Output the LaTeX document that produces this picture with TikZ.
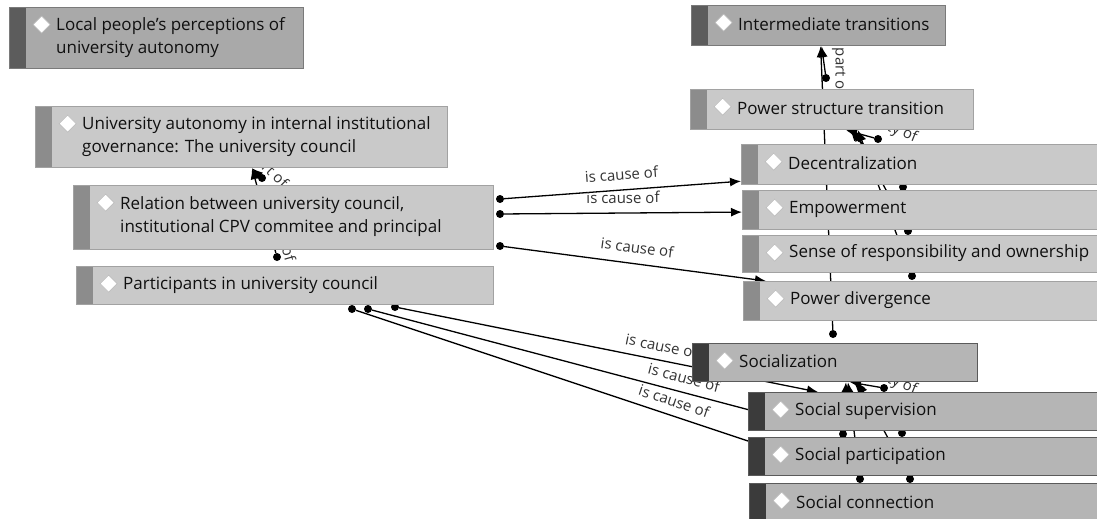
\documentclass[tikz,border=0pt]{standalone}
\usepackage{fontspec}
\setmainfont{Open Sans}
\usetikzlibrary{arrows.meta}
\pgfdeclarelayer{background}
\pgfsetlayers{background,main}

\definecolor{barA}{HTML}{5C5C5C}
\definecolor{fillA}{HTML}{A9A9A9}
\definecolor{lineA}{HTML}{7A7A7A}
\definecolor{barB}{HTML}{8C8C8C}
\definecolor{fillB}{HTML}{C9C9C9}
\definecolor{lineB}{HTML}{A2A2A2}
\definecolor{barC}{HTML}{3B3B3B}
\definecolor{fillC}{HTML}{B5B5B5}
\definecolor{lineC}{HTML}{5A5A5A}
\definecolor{txt}{HTML}{101010}
\definecolor{lbl}{HTML}{333333}

\tikzset{
    concept/.style={draw=line#1, fill=fill#1, line width=1.2pt, rectangle,
        anchor=north west, inner sep=0pt,
        path picture={
            \fill[bar#1] (path picture bounding box.north west)
                rectangle ([xshift=16pt]path picture bounding box.south west);
            \draw[gray!55, fill=white, line width=0.6pt]
                ([xshift=32pt,yshift=-17pt]path picture bounding box.north west)
                +(0pt,8.5pt) -- +(8.5pt,0pt) -- +(0pt,-8.5pt) -- +(-8.5pt,0pt) -- cycle;
        }},
    ctext/.style={anchor=west, align=left, text=txt, inner sep=0pt,
        font=\fontsize{17}{23}\selectfont},
    dot/.style={circle, fill=black, inner sep=0pt, minimum size=8pt},
    link/.style={line width=1.3pt, ->},
    under/.style={shorten >=-14pt},
    rel/.style={font=\fontsize{15}{16}\selectfont, text=lbl, inner sep=1pt}
}

% one code box: name, x, y, width, height, kind, text
\newcommand{\concept}[7]{%
    \node[concept=#6, minimum width=#4pt, minimum height=#5pt] (#1) at (#2,#3) {};
    \node[ctext] (#1-t) at ([xshift=47pt, yshift=1pt]#1.west) {#7};
}

\begin{document}
\begin{tikzpicture}[x=1pt, y=-1pt, >={Latex[length=11pt,width=9pt]}]
    \useasboundingbox (0,0) rectangle (1097,519);

    % left column
    \concept{loc}{9}{7}{294}{61}{A}{Local people’s perceptions of\\university autonomy}
    \concept{ua}{35}{106}{412}{61}{B}{University autonomy in internal institutional\\governance: The university council}
    \concept{rel}{73}{185}{420}{64}{B}{Relation between university council,\\institutional CPV commitee and principal}
    \concept{par}{76}{266}{417}{38}{B}{Participants in university council}

    % right column
    \concept{it}{691}{5}{254}{40}{A}{Intermediate transitions}
    \concept{pst}{690}{89}{283}{40}{B}{Power structure transition}
    \concept{dec}{741}{144}{370}{40}{B}{Decentralization}
    \concept{emp}{742}{190}{370}{39}{B}{Empowerment}
    \concept{sen}{742}{235}{370}{37}{B}{Sense of responsibility and ownership}
    \concept{pd}{743}{281}{370}{39}{B}{Power divergence}
    \concept{soc}{692}{343}{285}{38}{C}{Socialization}
    \concept{sup}{748}{392}{370}{38}{C}{Social supervision}
    \concept{spa}{748}{437}{370}{38}{C}{Social participation}
    \concept{con}{749}{483}{370}{40}{C}{Social connection}

    \begin{pgfonlayer}{background}
        \fill[white] (0,0) rectangle (1097,519);

        \node[dot] (rel-d1) at (500,199) {};
        \node[dot] (rel-d2) at (500,214) {};
        \node[dot] (rel-d3) at (500,246) {};
        \node[dot] (rel-d4) at (262,178) {};
        \node[dot] (par-d1) at (352,309) {};
        \node[dot] (par-d2) at (368,309) {};
        \node[dot] (par-d3) at (395,307) {};
        \node[dot] (par-d4) at (277,257) {};
        \node[dot] (pst-d) at (826,78) {};
        \node[dot] (soc-d) at (833,334) {};
        \node[dot] (dec-d) at (878,139) {};
        \node[dot] (emp-d) at (903,187) {};
        \node[dot] (sen-d) at (908,231) {};
        \node[dot] (pd-d) at (912,276) {};
        \node[dot] (sup-d) at (884,388) {};
        \node[dot] (spa-d) at (902,433) {};
        \node[dot] (spa-d2) at (843,434) {};
        \node[dot] (con-d) at (910,479) {};
        \node[dot] (con-d2) at (860,479) {};

        % is cause of
        \draw[link] (rel-d1) -- ([yshift=4pt]dec.south west)
            node[rel, midway, sloped, above=8pt] {is cause of};
        \draw[link] (rel-d2) -- ([yshift=-2pt]emp.west)
            node[rel, midway, sloped, above=8pt] {is cause of};
        \draw[link] (rel-d3) -- ([xshift=23pt]pd.north west)
            node[rel, midway, sloped, above=9pt] {is cause of};
        \draw[link] (par-d3) -- ([xshift=70pt]sup.north west)
            node[rel, pos=0.62, sloped, above=7pt] {is cause of};
        \draw[link, under] (par-d2) -- ([yshift=2pt]sup.west)
            node[rel, pos=0.82, sloped, above=7pt] {is cause of};
        \draw[link, under] (par-d1) -- ([yshift=-4pt]spa.north west)
            node[rel, pos=0.8, sloped, above=7pt] {is cause of};

        % is part of
        \draw[link] (rel-d4) -- ([xshift=217pt]ua.south west)
            node[rel, midway, sloped, above=1pt] {is part of};
        \draw[link] (par-d4) -- ([xshift=217pt]ua.south west)
            node[rel, pos=0.25, xshift=11pt, rotate=-74] {is part of};
        \draw[link] (pst-d) -- ([xshift=3pt]it.south)
            node[rel, midway, xshift=16pt, yshift=-4pt, rotate=-90] {is part of};
        \draw[link] (soc-d) -- ([xshift=2pt]it.south);

        % is property of
        \draw[link] (dec-d) -- ([xshift=156pt]pst.south west)
            node[rel, midway, xshift=13pt, yshift=13pt, rotate=-22] {is property of};
        \draw[link] (emp-d) -- ([xshift=160pt]pst.south west);
        \draw[link] (sen-d) -- ([xshift=164pt]pst.south west);
        \draw[link] (pd-d) -- ([xshift=168pt]pst.south west);
        \draw[link] (sup-d) -- ([xshift=158pt]soc.south west)
            node[rel, midway, xshift=8pt, yshift=12pt, rotate=-22] {is property of};
        \draw[link] (spa-d) -- ([xshift=162pt]soc.south west);
        \draw[link] (spa-d2) -- ([xshift=154pt]soc.south west);
        \draw[link] (con-d) -- ([xshift=166pt]soc.south west);
        \draw[link] (con-d2) -- ([xshift=156pt]soc.south west);
    \end{pgfonlayer}
\end{tikzpicture}
\end{document}
